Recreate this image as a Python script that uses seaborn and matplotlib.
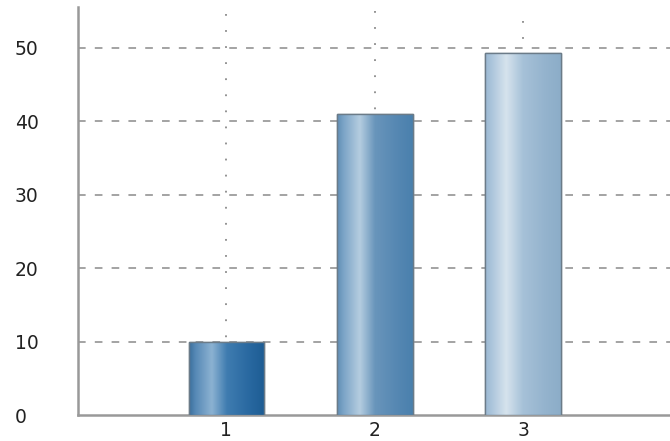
import numpy as np
import pandas as pd
import matplotlib
matplotlib.use("Agg")
import matplotlib.pyplot as plt
from matplotlib.colors import LinearSegmentedColormap
import seaborn as sns

# Chart data
categories = ["1", "2", "3"]
values = [10, 41, 49.3]
upper = [54.6, 55.0, 53.6]   # top of the dotted guide above each bar
y_ticks = [0, 10, 20, 30, 40, 50]

# Cylinder-style shading for each bar (left -> right)
bar_shades = [
    [(0.0, "#3a6e9c"), (0.08, "#5588b5"), (0.3, "#8cb2d2"), (0.5, "#3f7cb0"), (0.8, "#2868a0"), (1.0, "#1d5c93")],
    [(0.0, "#5f8db4"), (0.08, "#7aa3c6"), (0.3, "#b5cde0"), (0.5, "#6995bb"), (0.8, "#5587b2"), (1.0, "#4a80ad")],
    [(0.0, "#9ab8d2"), (0.08, "#aac4db"), (0.28, "#d6e3ed"), (0.5, "#a6c1d8"), (0.8, "#94b3cd"), (1.0, "#8cadc8")],
]

df = pd.DataFrame({"cat": categories, "val": values})

sns.set_style("white")
plt.rcParams["font.family"] = ["DejaVu Sans"]

fig = plt.figure(figsize=(6.70, 4.41), dpi=100)
ax = fig.add_axes([0.1164, 0.058, 0.8836, 0.926])

sns.barplot(data=df, x="cat", y="val", ax=ax, width=0.51,
            color="#4a80ad", edgecolor="#6b7b88", linewidth=1.0, zorder=3)

# dotted vertical guides behind the bars, drawn from the top down
ax.vlines(range(len(categories)), upper, [0] * len(categories), colors="#8a8a8a",
          linestyles=(0, (1.0, 7.9)), linewidth=1.3, zorder=1)

# dashed horizontal grid
for yv in y_ticks[1:]:
    ax.axhline(yv, color="#8a8a8a", linestyle=(0, (5, 6)), linewidth=1.1, zorder=2)

# gradient fill inside each bar
grad = np.linspace(0, 1, 256).reshape(1, -1)
for patch, stops in zip(ax.patches, bar_shades):
    cmap = LinearSegmentedColormap.from_list("shade", stops)
    x0, y0 = patch.get_x(), patch.get_y()
    w, h = patch.get_width(), patch.get_height()
    im = ax.imshow(grad, cmap=cmap, aspect="auto", extent=[x0, x0 + w, y0, y0 + h],
                   zorder=3.5, interpolation="bicubic")
    im.set_clip_path(patch)
    edge = plt.Rectangle((x0, y0), w, h, fill=False, edgecolor="#6b7b88",
                         linewidth=1.0, zorder=4)
    ax.add_patch(edge)

ax.set_xlim(-1.0, 2.99)
ax.set_ylim(0, 55.5)
ax.set_yticks(y_ticks)
ax.set_yticklabels([str(t) for t in y_ticks], ha="left")
ax.set_xlabel("")
ax.set_ylabel("")

# left-aligned value labels in a column at the figure edge
ax.tick_params(axis="y", length=0, pad=45.5, labelsize=13.5, labelcolor="#222222")
ax.tick_params(axis="x", length=0, pad=4, labelsize=13.5, labelcolor="#222222")

for side in ["top", "right"]:
    ax.spines[side].set_visible(False)
for side in ["left", "bottom"]:
    ax.spines[side].set_color("#999999")
    ax.spines[side].set_linewidth(1.8)

fig.savefig("out.png", dpi=100)
